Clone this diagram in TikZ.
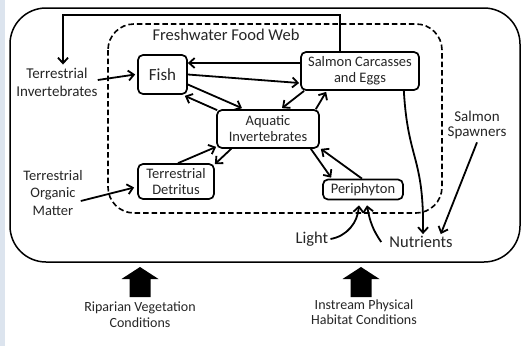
\documentclass[tikz,border=0pt]{standalone}
\usepackage{fontspec}
\setmainfont{Carlito}
\usetikzlibrary{calc,arrows.meta}
\definecolor{txt}{HTML}{262626}
\definecolor{strip}{HTML}{DCE4EE}
\tikzset{
  box/.style={draw=black,line width=1.7pt,rounded corners=5pt,fill=white,inner sep=0pt,align=center,text=txt,font=\fontsize{14.5}{16}\selectfont},
  lbl/.style={inner sep=0pt,align=center,text=txt},
  arr/.style={line width=1.8pt,-{Straight Barb[length=5.5pt,width=10pt,line width=1.8pt]}},
  frame/.style={line width=1.5pt,rounded corners=36pt},
  dashframe/.style={line width=1.6pt,dash pattern=on 5.5pt off 3pt,rounded corners=26pt},
}
\begin{document}
\begin{tikzpicture}[x=1pt,y=-1pt]
\useasboundingbox (0,0) rectangle (528,346);
\fill[white] (0,0) rectangle (528,346);
\fill[strip] (0,0) rectangle (5,346);
% frames
\draw[frame] (10,8) rectangle (520,262);
\draw[dashframe] (108,24) rectangle (442,213);
\node[lbl,font=\fontsize{16.5}{19}\selectfont] (title) at (226,35) {Freshwater Food Web};
% boxes
\node[box,minimum width=49pt,minimum height=39pt,font=\fontsize{17}{19}\selectfont] (fish) at (162.5,74.5) {Fish};
\node[box,minimum width=118pt,minimum height=38pt] (salmon) at (360,71) {Salmon Carcasses\\and Eggs};
\node[box,minimum width=102pt,minimum height=38pt] (aqua) at (268,129) {Aquatic\\Invertebrates};
\node[box,minimum width=76pt,minimum height=35pt] (detr) at (176,181.5) {Terrestrial\\Detritus};
\node[box,minimum width=80pt,minimum height=20pt] (peri) at (363,189.5) {Periphyton};
% labels
\node[lbl,font=\fontsize{15}{18}\selectfont] (ti) at (57,82) {Terrestrial\\Invertebrates};
\node[lbl,font=\fontsize{14.5}{17.5}\selectfont] (tom) at (53,193) {Terrestrial\\Organic\\Matter};
\node[lbl,font=\fontsize{15}{15.5}\selectfont] (spawn) at (477,125) {Salmon\\Spawners};
\node[lbl,font=\fontsize{16.5}{19}\selectfont] (light) at (312,239) {Light};
\node[lbl,font=\fontsize{16.5}{19}\selectfont] (nut) at (421,242) {Nutrients};
\node[lbl,font=\fontsize{14}{16}\selectfont] (rip) at (140,315) {Riparian Vegetation\\Conditions};
\node[lbl,font=\fontsize{14}{15.5}\selectfont] (ins) at (364,312) {Instream Physical\\Habitat Conditions};
% top loop
\coordinate (loop) at (63,15);
\draw[arr] ([xshift=-20pt]salmon.north) |- (loop) -- ($(loop |- ti.north)+(0,-3)$);
% connectors
\draw[arr] ($(ti.east)+(0,-2)$) -- ($(fish.west)+(-2,0)$);
\draw[arr] ($(salmon.west)+(0,-8)$) -- ($(fish.east)+(0,-11.5)$);
\draw[arr] (fish.east) -- ($(salmon.west)+(-1,12)$);
\draw[arr] ($(fish.east)+(0,10)$) -- ($(aqua.north)+(-26,-1)$);
\draw[arr] ($(aqua.north west)+(1,1)$) -- ($(fish.south east)+(-3,1)$);
\draw[arr] ($(salmon.south west)+(4,0)$) -- ($(aqua.north)+(14,-1)$);
\draw[arr] ($(aqua.north east)+(-4,0)$) -- ($(salmon.south west)+(26,1)$);
\draw[arr] ($(detr.north)+(2,0)$) -- ($(aqua.south west)+(0,-2)$);
\draw[arr] ($(aqua.south west)+(15,0)$) -- ($(detr.north east)+(0,1)$);
\draw[arr] ($(aqua.south east)+(-9,0)$) -- ($(peri.north west)+(9,-1)$);
\draw[arr] ($(peri.north)+(-1,0)$) -- ($(aqua.south east)+(1,0)$);
\draw[arr] ($(tom.east)+(-2,8)$) -- ($(detr.west)+(-3,6)$);
% nutrients
\draw[arr] ($(salmon.south east)+(-16,0)$) .. controls ($(salmon.south east)+(-12,70)$) and ($(nut.north)+(3,-80)$) .. ($(nut.north)+(2,-2)$);
\draw[arr] ($(spawn.south)+(0,3)$) -- ($(nut.north east)+(-12,-2)$);
\draw[arr] ($(light.east)+(2,0)$) to[out=10,in=-95] ($(peri.south)+(-4,5)$);
\draw[arr] ($(nut.west)+(-8,0)$) to[out=125,in=-80] ($(peri.south)+(4,5)$);
% big arrows
\coordinate (ra) at (140,297);
\coordinate (ia) at (361,297);
\fill (ra) ++(-10.5,0) -- ++(21,0) -- ++(0,-18) -- ++(8,0) -- ++(-18.5,-12) -- ++(-18.5,12) -- ++(8,0) -- cycle;
\fill (ia) ++(-10.5,0) -- ++(21,0) -- ++(0,-18) -- ++(8,0) -- ++(-18.5,-12) -- ++(-18.5,12) -- ++(8,0) -- cycle;
\end{tikzpicture}
\end{document}
